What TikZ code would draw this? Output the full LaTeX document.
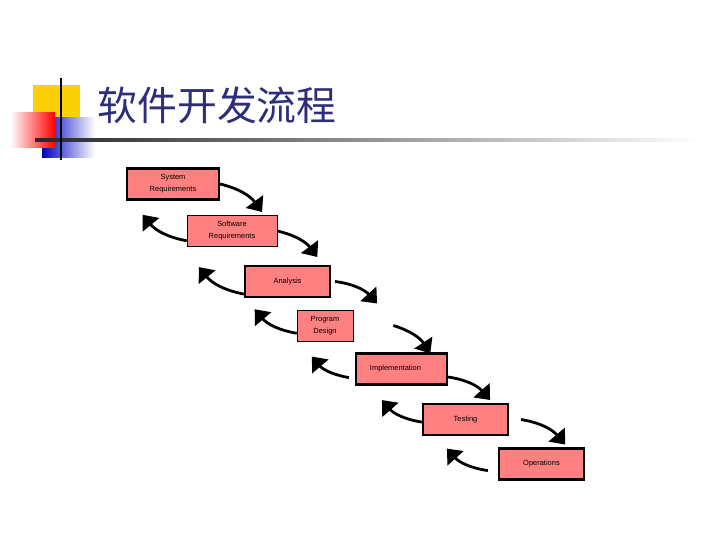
\documentclass[tikz,border=0pt]{standalone}
\usepackage{fontspec}
\setsansfont{Liberation Sans}
\newfontfamily\cjk{Noto Sans CJK SC}
\usetikzlibrary{arrows.meta}
\definecolor{boxpink}{HTML}{FF8080}
\definecolor{titleblue}{HTML}{2E2E78}
\tikzset{
  stage/.style={draw, fill=boxpink, minimum height=31bp, inner sep=1pt, align=center, font=\sffamily\fontsize{7.5}{12}\selectfont},
  thickstage/.style={stage, line width=2.2pt},
  thinstage/.style={stage, line width=0.6pt},
  flow/.style={line width=2.8pt, -{Triangle[width=21bp,length=13bp]}, bend left=20}
}
\begin{document}
\begin{tikzpicture}[x=1bp,y=1bp]
\useasboundingbox (0,0) rectangle (720,540);
% title decoration
\fill[yellow!60!orange!80!yellow] (33,420) rectangle (80,455);
\shade[left color=blue!75!black, right color=white] (42,382) rectangle (95,422);
\shade[left color=white, right color=red] (10,392) rectangle (55,427);
\shade[left color=black!85, right color=white] (35,398.5) rectangle (700,401);
\draw[line width=2pt] (61,380) -- (61,462);
\node[font=\cjk\fontsize{40}{42}\selectfont, text=titleblue, anchor=west] (title) at (94,435) {软件开发流程};
% stages
\node[thickstage, minimum width=92bp] (1) at (173,356) {System\\Requirements};
\node[thinstage, minimum width=90bp] (2) at (232,309) {Software\\Requirements};
\node[thickstage, minimum width=85bp] (3) at (287.5,258.5) {Analysis};
\node[thinstage, minimum width=56bp] (4) at (325,214.5) {Program\\Design};
\node[thickstage, minimum width=91bp] (5) at (401.5,171) {Implementation\hspace{12bp}};
\node[thickstage, minimum width=85bp] (6) at (465.5,120.5) {Testing};
\node[thickstage, minimum width=85bp] (7) at (541.5,76) {Operations};
% forward
\draw[flow] (1.east) to ++(42,-28);
\draw[flow] (2.east) to ++(40,-26);
\draw[flow] ([xshift=4bp]3.east) to ++(42,-22);
\draw[flow] ([xshift=40bp]4.east) to ++(37,-28);
\draw[flow] ([yshift=-8bp]5.east) to ++(42,-23);
\draw[flow] ([xshift=12bp]6.east) to ++(44,-25);
% backward
\draw[flow] ([yshift=6bp]2.south west) to ++(-44,26);
\draw[flow] ([yshift=4bp]3.south west) to ++(-45,27);
\draw[flow] ([yshift=8bp]4.south west) to ++(-42,24);
\draw[flow] ([xshift=-6bp,yshift=8bp]5.south west) to ++(-37,21);
\draw[flow] ([yshift=14bp]6.south west) to ++(-40,22);
\draw[flow] ([xshift=-10bp,yshift=10bp]7.south west) to ++(-41,22);
\end{tikzpicture}
\end{document}
